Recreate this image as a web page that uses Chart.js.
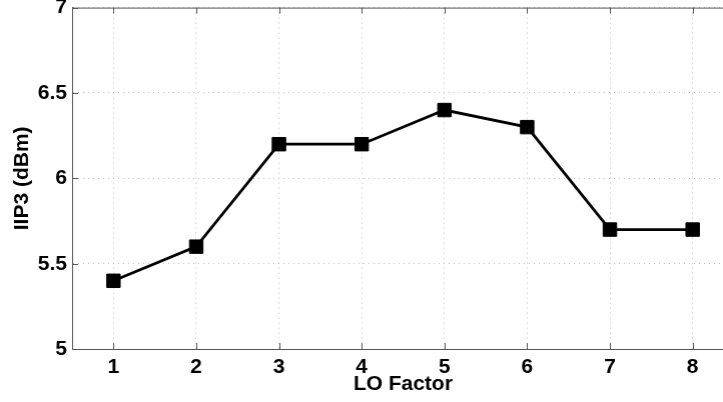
<!DOCTYPE html>
<html>
<head>
<meta charset="utf-8">
<script src="https://cdn.jsdelivr.net/npm/chart.js@4/dist/chart.umd.min.js"></script>
<style>
  html, body { margin: 0; padding: 0; background: #fff; overflow: hidden; }
  #wrap { width: 723px; height: 402px; overflow: hidden; position: relative; }
  #box { width: 741px; height: 402px; position: absolute; left: 0; top: 0; }
</style>
</head>
<body>
<div id="wrap"><div id="box"><canvas id="chart"></canvas></div></div>
<script>
const loFactors = ["1", "2", "3", "4", "5", "6", "7", "8"];
const iip3 = [5.4, 5.6, 6.2, 6.2, 6.4, 6.3, 5.7, 5.7];
const yTicks = [5, 5.5, 6, 6.5, 7];

const fontFamily = "'Liberation Sans', Arial, Helvetica, sans-serif";
const axisColor = "#555";

// top border + inward tick marks, like the matlab box
const frame = {
  id: "frame",
  afterDraw(chart) {
    const { ctx, chartArea: a, scales } = chart;
    ctx.save();
    ctx.strokeStyle = axisColor;
    ctx.lineWidth = 1;
    ctx.beginPath();
    ctx.moveTo(a.left, a.top + 0.5);
    ctx.lineTo(a.right, a.top + 0.5);
    scales.x.ticks.forEach((t, i) => {
      const x = Math.round(scales.x.getPixelForTick(i)) + 0.5;
      ctx.moveTo(x, a.bottom);
      ctx.lineTo(x, a.bottom - 6);
      ctx.moveTo(x, a.top);
      ctx.lineTo(x, a.top + 6);
    });
    scales.y.ticks.forEach((t) => {
      const y = Math.round(scales.y.getPixelForValue(t.value)) + 0.5;
      ctx.moveTo(a.left, y);
      ctx.lineTo(a.left + 6, y);
    });
    ctx.stroke();
    ctx.restore();
  },
};

const chart = new Chart(document.getElementById("chart"), {
  type: "line",
  data: {
    labels: loFactors,
    datasets: [
      {
        data: iip3,
        borderColor: "#000",
        borderWidth: 2.8,
        pointStyle: "rect",
        pointRadius: 9.5,
        pointBackgroundColor: "#000",
        pointBorderColor: "#000",
        pointBorderWidth: 1,
        tension: 0,
      },
    ],
  },
  options: {
    responsive: true,
    maintainAspectRatio: false,
    animation: false,
    layout: { padding: { top: 0, right: 0, bottom: 0, left: 0 } },
    plugins: { legend: { display: false }, tooltip: { enabled: false } },
    scales: {
      x: {
        type: "category",
        offset: true,
        grid: { offset: false, drawTicks: false, color: "#bcbcbc", lineWidth: 1 },
        border: { color: axisColor, width: 1, dash: [1, 4] },
        ticks: {
          color: "#000",
          padding: 5.5,
          font: { family: fontFamily, size: 21, weight: "bold" },
        },
        title: {
          display: true,
          text: "LO Factor",
          color: "#000",
          padding: { top: 0, bottom: 5 },
          font: { family: fontFamily, size: 21, weight: "bold" },
        },
        afterFit(scale) {
          scale.height = 53;
        },
      },
      y: {
        min: 5,
        max: 7,
        afterBuildTicks(scale) { scale.ticks = yTicks.map((v) => ({ value: v })); },
        grid: { drawTicks: false, color: "#bcbcbc", lineWidth: 1 },
        border: { color: axisColor, width: 1, dash: [1, 4] },
        ticks: {
          color: "#000",
          padding: 5,
          font: { family: fontFamily, size: 21, weight: "bold" },
          callback: (v) => String(v),
        },
        title: {
          display: true,
          text: "IIP3 (dBm)",
          color: "#000",
          padding: { top: 9.5, bottom: 0 },
          font: { family: fontFamily, size: 21, weight: "bold" },
        },
        afterFit(scale) {
          scale.width = 72;
        },
      },
    },
  },
  plugins: [frame],
});

// nudge the canvas so the plot box lands at top 7.5 / right 733 like the original
const box = document.getElementById("box");
const area = chart.chartArea;
const dy = area.top - 7.5;
const dx = 733 - area.right;
box.style.top = -dy + "px";
box.style.height = 402 + dy + "px";
box.style.width = 741 + dx + "px";
chart.resize();
</script>
</body>
</html>
